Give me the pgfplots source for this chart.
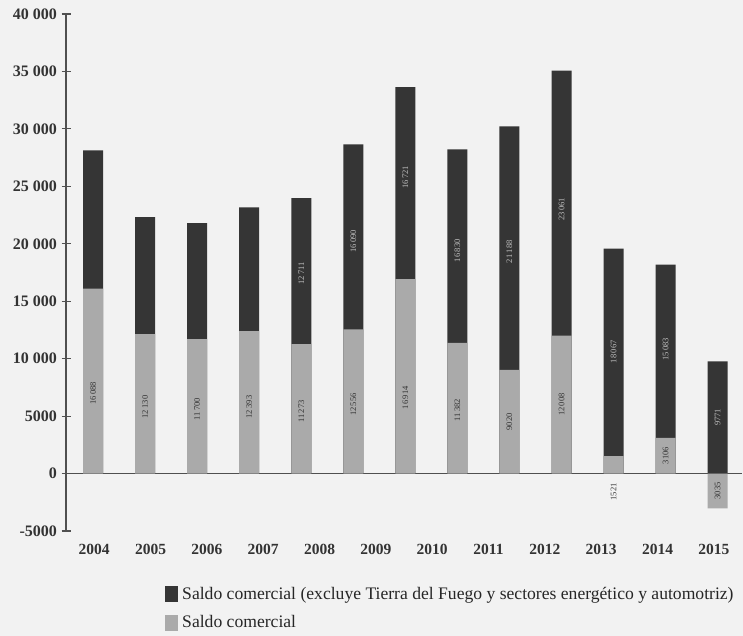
\documentclass[border=0pt]{standalone}
\usepackage{fontspec}
\setmainfont{Liberation Serif}
\usepackage{pgfplots}
\pgfplotsset{compat=1.18}
\definecolor{darkbar}{HTML}{353535}
\definecolor{lightbar}{HTML}{AAAAAA}
\definecolor{axisgray}{HTML}{505050}
\begin{document}
\begin{tikzpicture}
\fill[black!5] (0,0) rectangle (743pt,636pt);
\path[use as bounding box] (0,0) rectangle (743pt,636pt);
\begin{axis}[
  at={(66pt,105pt)}, anchor=south west,
  scale only axis, width=676pt, height=517pt,
  xmin=0, xmax=12, ymin=-5000, ymax=40000,
  axis x line*=middle, axis y line*=left,
  axis line style={-, draw=axisgray, line width=1.3pt},
  xtick={0.5,1.5,2.5,3.5,4.5,5.5,6.5,7.5,8.5,9.5,10.5,11.5},
  xticklabels={2004,2005,2006,2007,2008,2009,2010,2011,2012,2013,2014,2015},
  major x tick style={draw=none},
  extra x ticks={1,2,3,4,5,6,7,8,9,10,11,12},
  extra x tick labels={},
  extra x tick style={tick style={draw=axisgray, line width=1.2pt}},
  xticklabel style={yshift=-63pt, font=\bfseries\fontsize{15.5}{15.5}\selectfont, text=black!80},
  ytick={-5000,0,5000,10000,15000,20000,25000,30000,35000,40000},
  yticklabels={-5000,0,5000,10\ 000,15\ 000,20\ 000,25\ 000,30\ 000,35\ 000,40\ 000},
  yticklabel style={font=\bfseries\fontsize{16}{16}\selectfont, text=black!80, xshift=-1pt},
  tick align=center, major tick length=9pt,
  tick style={draw=axisgray, line width=1.2pt},
  clip=false,
  legend style={at={(0.1465,-0.104)}, anchor=north west, draw=none, fill=none,
    inner sep=0pt, row sep=11pt, font=\fontsize{17.6}{17.6}\selectfont, text=black!85,
    nodes={inner xsep=4pt}},
  legend cell align=left,
  legend image code/.code={\fill[#1] (0pt,-8pt) rectangle (13pt,8pt);},
]
% dark bars: total height
\addplot[ybar, bar width=20pt, bar shift=0pt, fill=darkbar, draw=none] coordinates {
(0.480,28125) (1.404,22309) (2.328,21790) (3.252,23177) (4.176,23984)
(5.100,28646) (6.024,33635) (6.948,28212) (7.872,30208) (8.796,35069)
(9.720,19588) (10.644,18189) (11.568,9771)};
\addlegendentry{Saldo comercial (excluye Tierra del Fuego y sectores energético y automotriz)}
% light bars: saldo comercial
\addplot[ybar, bar width=20pt, bar shift=0pt, fill=lightbar, draw=none] coordinates {
(0.480,16088) (1.404,12130) (2.328,11700) (3.252,12393) (4.176,11273)
(5.100,12556) (6.024,16914) (6.948,11382) (7.872,9020) (8.796,12008)
(9.720,1521) (10.644,3106) (11.568,-3035)};
\addlegendentry{Saldo comercial}
% value labels, light segments
\addplot[forget plot, draw=none, mark=none, nodes near coords, point meta=explicit symbolic,
  nodes near coords align=center,
  every node near coord/.style={rotate=90, anchor=center, font=\fontsize{8.5}{9}\selectfont, text=black!80}]
coordinates {
(0.480,7000)[16\,088] (1.404,5800)[12\,130] (2.328,5600)[11\,700] (3.252,5800)[12\,393]
(4.176,5400)[11\,273] (5.100,6000)[12\,556] (6.024,6600)[16\,914] (6.948,5500)[11\,382]
(7.872,4500)[9020] (8.796,6000)[12\,008] (9.720,-1600)[1521] (10.644,1550)[3106]
(11.568,-1500)[3035]};
% value labels, dark segments
\addplot[forget plot, draw=none, mark=none, nodes near coords, point meta=explicit symbolic,
  nodes near coords align=center,
  every node near coord/.style={rotate=90, anchor=center, font=\fontsize{8.5}{9}\selectfont, text=black!25}]
coordinates {
(4.176,17400)[12\,711] (5.100,20200)[16\,090] (6.024,25800)[16\,721] (6.948,19400)[16\,830]
(7.872,19300)[21\,188] (8.796,23000)[23\,061] (9.720,10600)[18\,067] (10.644,10800)[15\,083]
(11.568,4900)[9771]};
\end{axis}
\end{tikzpicture}
\end{document}
